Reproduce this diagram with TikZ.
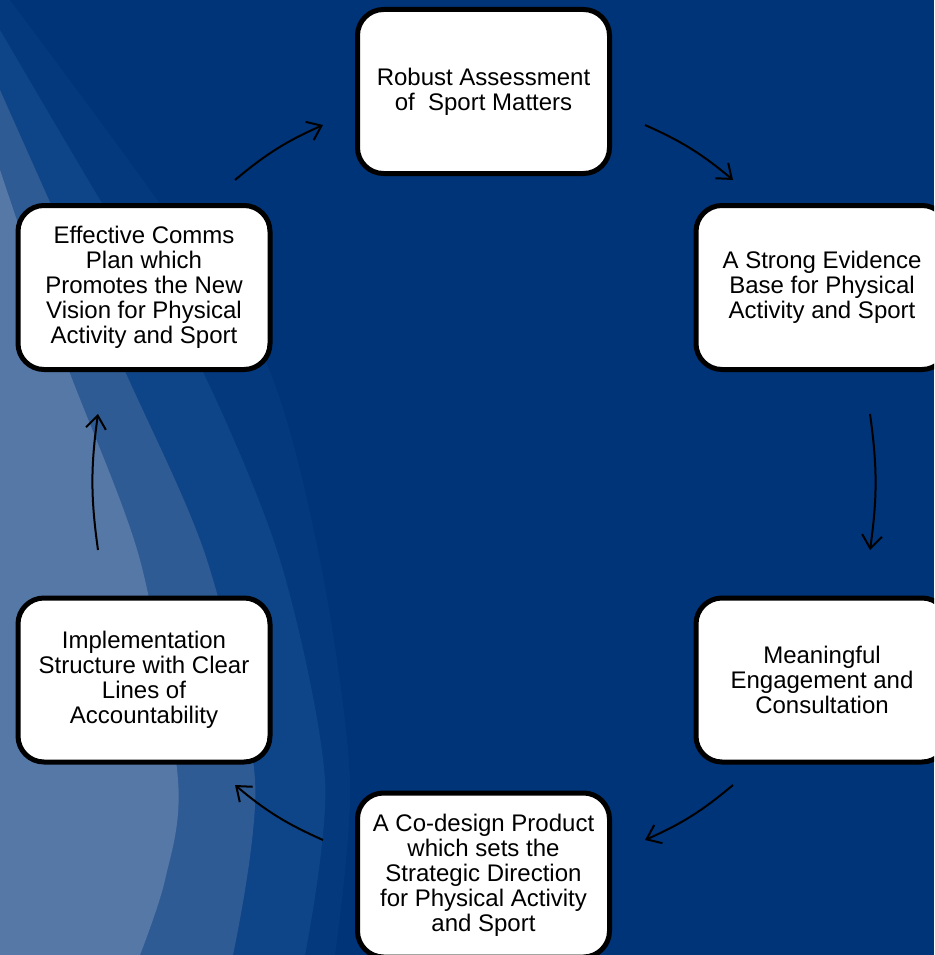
\documentclass[tikz,border=0pt]{standalone}
\usepackage{fontspec}
\setmainfont{Liberation Sans}
\usetikzlibrary{arrows.meta}
\definecolor{bgblue}{RGB}{0,52,120}
\definecolor{bandD}{RGB}{5,57,126}
\definecolor{bandC}{RGB}{14,68,136}
\definecolor{bandB}{RGB}{46,91,148}
\definecolor{bandA}{RGB}{86,120,166}
\tikzset{
  box/.style={draw=black, line width=5pt, fill=white, rounded corners=26pt,
    minimum width=252pt, minimum height=164pt, inner sep=0pt, align=center,
    font=\fontsize{24}{25}\selectfont},
  flow/.style={draw=black, line width=2pt, -{Straight Barb[length=13pt,width=20pt]}, bend left=8}
}
\begin{document}
\begin{tikzpicture}[x=1pt,y=1pt]
\useasboundingbox (0,0) rectangle (934,-955);
\clip (0,0) rectangle (934,-955);
\fill[bgblue] (0,0) rectangle (934,-955);
% background swoosh bands
\fill[bandD] plot[smooth] coordinates {(10,0) (150,-190) (265,-360) (320,-560) (350,-780) (335,-955)} -- (0,-955) -- (0,0) -- cycle;
\fill[bandC] plot[smooth] coordinates {(0,-30) (100,-200) (197,-360) (280,-560) (325,-780) (305,-955)} -- (0,-955) -- cycle;
\fill[bandB] plot[smooth] coordinates {(0,-90) (120,-360) (207,-560) (255,-780) (233,-955)} -- (0,-955) -- cycle;
\fill[bandA] plot[smooth] coordinates {(0,-170) (65,-360) (140,-560) (178,-780) (165,-880) (140,-955)} -- (0,-955) -- cycle;
% boxes
\node[box] (top) at (483.5,-91.5) {Robust Assessment\\of\ \ Sport Matters};
\node[box] (rtop) at (822,-287.5) {A Strong Evidence\\Base for Physical\\Activity and Sport};
\node[box] (rbot) at (822,-680) {Meaningful\\Engagement and\\Consultation};
\node[box] (bot) at (483.5,-875) {A Co-design Product\\which sets the\\Strategic Direction\\for Physical Activity\\and Sport};
\node[box] (lbot) at (144,-680) {Implementation\\Structure with Clear\\Lines of\\Accountability};
\node[box] (ltop) at (144,-287.5) {Effective Comms\\Plan which\\Promotes the New\\Vision for Physical\\Activity and Sport};
% arrow end points
\coordinate (a1s) at (235,-180); \coordinate (a1e) at (323,-125);
\coordinate (a2s) at (645,-125); \coordinate (a2e) at (733,-180);
\coordinate (a3s) at (870,-414); \coordinate (a3e) at (870,-550);
\coordinate (a4s) at (733,-785); \coordinate (a4e) at (645,-840);
\coordinate (a5s) at (323,-840); \coordinate (a5e) at (235,-785);
\coordinate (a6s) at (98,-550);  \coordinate (a6e) at (98,-414);
\draw[flow] (a1s) to (a1e);
\draw[flow] (a2s) to (a2e);
\draw[flow] (a3s) to (a3e);
\draw[flow] (a4s) to (a4e);
\draw[flow] (a5s) to (a5e);
\draw[flow] (a6s) to (a6e);
\end{tikzpicture}
\end{document}
